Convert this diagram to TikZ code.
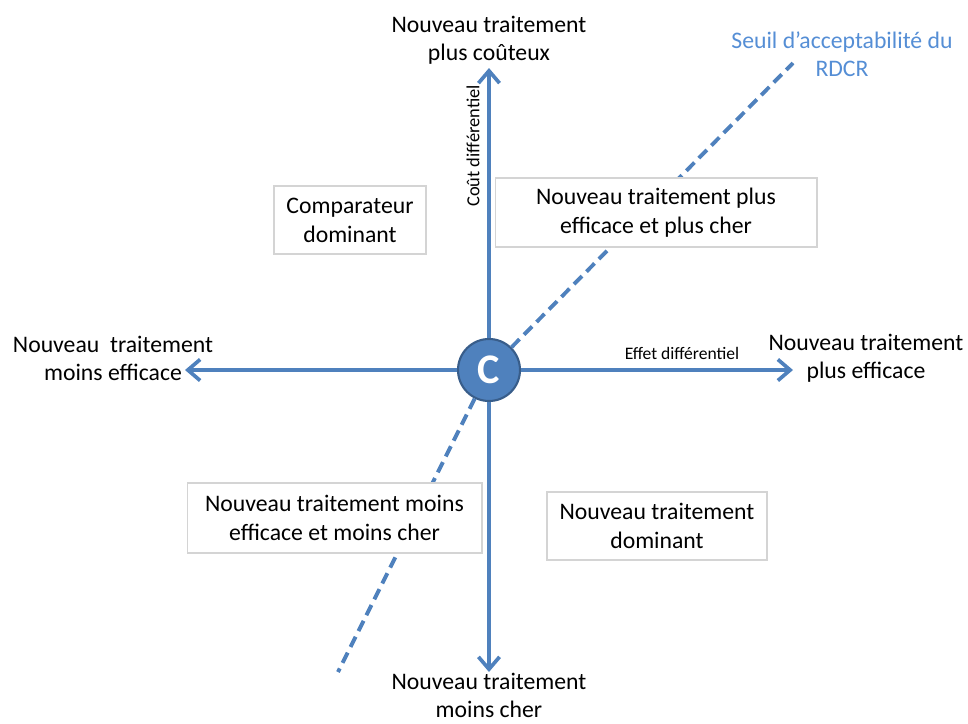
\documentclass[tikz,border=0pt]{standalone}
\usepackage{fontspec}
\setmainfont{Carlito}
\usepackage{tikz}
\usetikzlibrary{arrows.meta}
\definecolor{bleu}{HTML}{4F81BD}
\definecolor{bleufonce}{HTML}{385D8A}
\definecolor{bleutexte}{HTML}{558ED5}
\definecolor{bord}{HTML}{D4D4D4}
\tikzset{
    axe/.style={bleu, line width=2.1pt, -{Straight Barb[length=7pt,width=12pt]}},
    seuil/.style={bleu, line width=2.2pt, dash pattern=on 6.5pt off 3.6pt},
    cadre/.style={draw=bord, fill=white, line width=0.6pt, align=center,
        font=\fontsize{13.5}{16.5}\selectfont, inner sep=0pt},
    etiq/.style={align=center, font=\fontsize{13.5}{16}\selectfont, inner sep=0pt},
    petit/.style={font=\fontsize{10}{12}\selectfont, inner sep=0pt}
}
\begin{document}
\begin{tikzpicture}[x=0.02cm,y=-0.02cm]
    \useasboundingbox (0,0) rectangle (968,724);
    \node[circle, fill=bleu, draw=bleufonce, line width=1.2pt, minimum size=1.24cm,
        inner sep=0pt, text=white, font=\fontsize{24}{24}\selectfont\bfseries] (C) at (489,370) {C};
    % extremites des axes et du seuil
    \coordinate (haut) at (489,68);
    \coordinate (bas) at (489,672);
    \coordinate (gauche) at (185,370);
    \coordinate (droite) at (793,370);
    \coordinate (seuilH) at (793,63);
    \coordinate (seuilB) at (338,672);
    \draw[axe] (C) -- (haut);
    \draw[axe] (C) -- (bas);
    \draw[axe] (C) -- (gauche);
    \draw[axe] (C) -- (droite);
    \draw[seuil] (C) -- (seuilH);
    \draw[seuil] (C) -- (seuilB);
    % quadrants
    \node[cadre, minimum width=3.04cm, minimum height=1.36cm] (comp) at (350,220)
        {Comparateur\\dominant};
    \node[cadre, minimum width=6.44cm, minimum height=1.38cm] (pepc) at (656,212.5)
        {Nouveau traitement plus\\efficace et plus cher};
    \node[cadre, minimum width=5.9cm, minimum height=1.4cm] (memc) at (334.5,518)
        {Nouveau traitement moins\\efficace et moins cher};
    \node[cadre, minimum width=4.4cm, minimum height=1.36cm] (dom) at (657,526)
        {Nouveau traitement\\dominant};
    % libelles des axes
    \node[etiq] (plusCout) at (489,40) {Nouveau traitement\\plus coûteux};
    \node[etiq] (moinsCher) at (489,695) {Nouveau traitement\\moins cher};
    \node[etiq] (moinsEff) at (113,358) {Nouveau~ traitement\\moins efficace};
    \node[etiq] (plusEff) at (866,358) {Nouveau traitement\\plus efficace};
    \node[etiq, text=bleutexte] (rdcr) at (842,54) {Seuil d’acceptabilité du\\RDCR};
    \node[petit] (effet) at (682,353) {Effet différentiel};
    \node[petit, rotate=90, font=\fontsize{10.5}{12}\selectfont] (cout) at (473,146) {Coût différentiel};
\end{tikzpicture}
\end{document}
